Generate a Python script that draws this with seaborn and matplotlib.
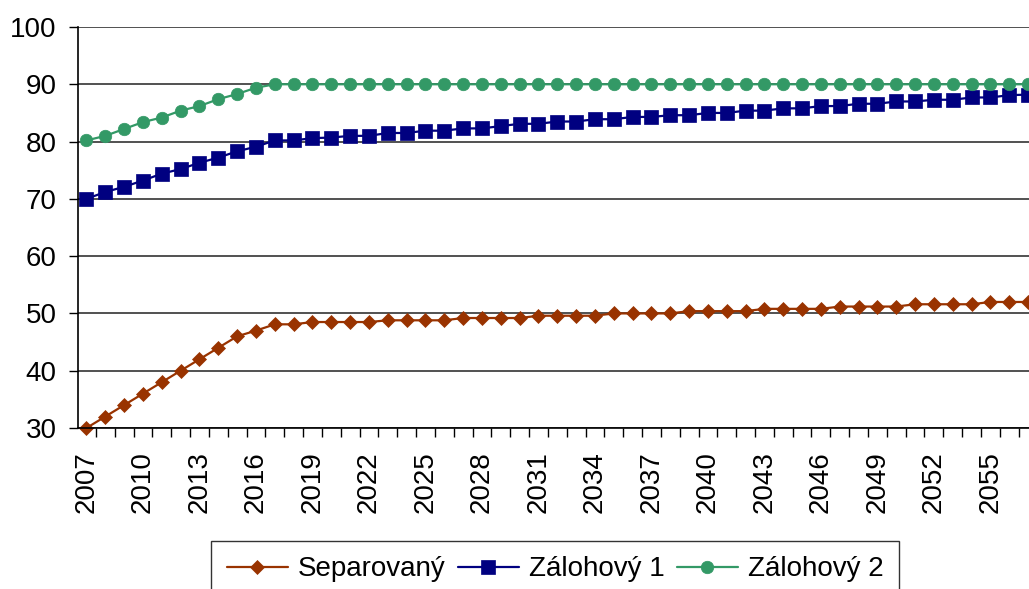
import numpy as np
import pandas as pd
import seaborn as sns
import matplotlib.pyplot as plt
from matplotlib.ticker import MultipleLocator, FixedLocator

years = list(range(2007, 2058))

separovany = [30.0, 32.0, 34.0, 36.0, 38.0, 40.0, 42.0, 44.0, 46.0, 47.0,
              48.1, 48.1, 48.5, 48.5, 48.5, 48.5, 48.8, 48.8, 48.8, 48.8,
              49.2, 49.2, 49.2, 49.2, 49.6, 49.6, 49.6, 49.6, 50.0, 50.0,
              50.0, 50.0, 50.4, 50.4, 50.4, 50.4, 50.8, 50.8, 50.8, 50.8,
              51.2, 51.2, 51.2, 51.2, 51.6, 51.6, 51.6, 51.6, 52.0, 52.0,
              52.0]
zalohovy1 = [70.0, 71.2, 72.1, 73.2, 74.4, 75.2, 76.3, 77.2, 78.3, 79.1,
             80.2, 80.2, 80.6, 80.7, 81.0, 81.0, 81.5, 81.5, 81.9, 81.9,
             82.3, 82.3, 82.7, 83.1, 83.1, 83.5, 83.5, 83.9, 83.9, 84.3,
             84.3, 84.6, 84.6, 85.0, 85.0, 85.4, 85.4, 85.8, 85.8, 86.2,
             86.2, 86.6, 86.6, 87.0, 87.0, 87.3, 87.3, 87.7, 87.7, 88.1,
             88.2]
zalohovy2 = [80.2, 81.0, 82.2, 83.4, 84.2, 85.4, 86.2, 87.4, 88.3, 89.4] + [90.0] * 41

series_names = ['Separovaný', 'Zálohový 1', 'Zálohový 2']
colors = {'Separovaný': '#993300', 'Zálohový 1': '#000080', 'Zálohový 2': '#339966'}
markers = {'Separovaný': 'D', 'Zálohový 1': 's', 'Zálohový 2': 'o'}
msizes = {'Separovaný': 7.5, 'Zálohový 1': 9.5, 'Zálohový 2': 9.0}

df = pd.DataFrame({'Rok': years * 3,
                   'Hodnota': separovany + zalohovy1 + zalohovy2,
                   'Typ': [n for n in series_names for _ in years]})

sns.set_style('white')
plt.rcParams['font.family'] = ['Liberation Sans', 'DejaVu Sans']
plt.rcParams['text.color'] = 'black'
plt.rcParams['xtick.color'] = 'black'
plt.rcParams['ytick.color'] = 'black'

fig = plt.figure(figsize=(10.29, 5.89), dpi=100)
ax = fig.add_axes([78 / 1029, 1 - 428 / 589, 1 - 78 / 1029, (428 - 27) / 589])

for name in series_names:
    sns.lineplot(data=df[df['Typ'] == name], x='Rok', y='Hodnota', ax=ax,
                 color=colors[name], marker=markers[name], markersize=msizes[name],
                 markeredgewidth=0.5, markeredgecolor=colors[name],
                 linewidth=1.6, label=name, clip_on=False)

ax.set_xlim(2006.55, 2057.05)
ax.set_ylim(30, 100)
ax.yaxis.set_major_locator(MultipleLocator(10))
ax.grid(axis='y', color='#222222', linewidth=1.1)
ax.set_axisbelow(True)

# category-style axis: ticks between years, labels every 3rd year
ax.xaxis.set_major_locator(FixedLocator(list(range(2007, 2058, 3))))
ax.xaxis.set_minor_locator(FixedLocator([y + 0.5 for y in range(2006, 2057)]))
ax.tick_params(axis='x', which='major', length=0, pad=17, labelsize=20, labelrotation=90)
ax.tick_params(axis='x', which='minor', length=6.5, width=1, color='black', direction='out', bottom=True)
ax.tick_params(axis='y', which='major', length=6.5, width=1, color='black', direction='out', left=True, pad=9, labelsize=20)

for side in ['top', 'right']:
    ax.spines[side].set_visible(False)
for side in ['left', 'bottom']:
    ax.spines[side].set_color('black')
    ax.spines[side].set_linewidth(1.2)

ax.set_xlabel('')
ax.set_ylabel('')

# legend below the plot, partly cut by the bottom edge like the original
ax.legend_.remove()
handles, labels = ax.get_legend_handles_labels()
leg = fig.legend(handles, labels, loc='upper center', bbox_to_anchor=(555 / 1029, 1 - 541 / 589),
                 ncol=3, fontsize=20, frameon=True, fancybox=False, edgecolor='black',
                 handlelength=2.2, handletextpad=0.35, columnspacing=0.45, borderpad=0.55,
                 borderaxespad=0)
leg.get_frame().set_linewidth(1)

plt.savefig('out.png', dpi=100)
